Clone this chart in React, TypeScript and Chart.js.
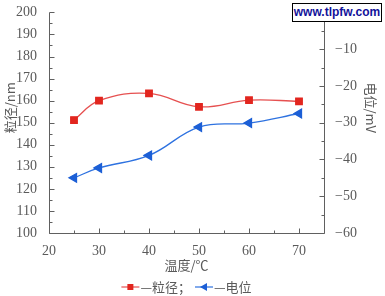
import React, { useEffect, useRef } from 'react';
import { Chart, registerables } from 'chart.js';
Chart.register(...registerables);

const temperatures = [25, 30, 40, 50, 60, 70];
const particleSize = [151.2, 160, 163.3, 157.2, 160.2, 159.7];
const zetaPotential = [-45, -42.3, -38.9, -31.2, -30.1, -27.5];

const xTickValues = [20, 30, 40, 50, 60, 70];
const leftTickValues = [100, 110, 120, 130, 140, 150, 160, 170, 180, 190, 200];
const rightTickValues = [-60, -50, -40, -30, -20, -10, 0];

const xTitle = '温度/℃';
const leftTitle = '粒径/nm';
const rightTitle = '电位/mV';
const sizeLabel = '—粒径；';
const potentialLabel = '—电位';
const watermark = 'www.tlpfw.com';

const RED = '#e2261f';
const RED_LINE = '#e65050';
const BLUE = '#1c5fd6';
const BLUE_LINE = '#2e72e0';
const AXIS = '#606060';
const TEXT = '#5a5a5a';
const SERIF = 'Liberation Serif, Times New Roman, DejaVu Serif, serif';
const CJK_FONT = '13px Noto Sans CJK SC, sans-serif';

function minorValues(majors: number[]) {
  const out: number[] = [];
  for (let i = 0; i < majors.length - 1; i++) out.push((majors[i] + majors[i + 1]) / 2);
  return out;
}

const decorPlugin = {
  id: 'decor',
  beforeDatasetsDraw(chart: any) {
    const { ctx, chartArea: a, scales } = chart;
    const L = Math.round(a.left) + 0.5;
    const R = Math.round(a.right) + 0.5;
    const B = Math.round(a.bottom) + 0.5;
    const T = Math.round(a.top) + 0.5;
    ctx.save();
    ctx.strokeStyle = AXIS;
    ctx.lineWidth = 1;
    ctx.beginPath();
    ctx.moveTo(L, T);
    ctx.lineTo(L, B);
    ctx.lineTo(R, B);
    ctx.lineTo(R, T);
    ctx.stroke();
    ctx.beginPath();
    const tick = (x1: number, y1: number, x2: number, y2: number) => {
      ctx.moveTo(x1, y1);
      ctx.lineTo(x2, y2);
    };
    xTickValues.forEach((v) => {
      const x = Math.round(scales.x.getPixelForValue(v)) + 0.5;
      tick(x, B, x, B - 5);
    });
    minorValues(xTickValues).forEach((v) => {
      const x = Math.round(scales.x.getPixelForValue(v)) + 0.5;
      tick(x, B, x, B - 3);
    });
    leftTickValues.forEach((v) => {
      const y = Math.round(scales.y.getPixelForValue(v)) + 0.5;
      tick(L, y, L + 5, y);
    });
    minorValues(leftTickValues).forEach((v) => {
      const y = Math.round(scales.y.getPixelForValue(v)) + 0.5;
      tick(L, y, L + 3, y);
    });
    rightTickValues.forEach((v) => {
      const y = Math.round(scales.y1.getPixelForValue(v)) + 0.5;
      tick(R, y, R - 5, y);
    });
    minorValues(rightTickValues).forEach((v) => {
      const y = Math.round(scales.y1.getPixelForValue(v)) + 0.5;
      tick(R, y, R - 3, y);
    });
    ctx.stroke();
    ctx.restore();
  },
  afterDraw(chart: any) {
    const { ctx, chartArea: a } = chart;
    const cx = (a.left + a.right) / 2;
    const cy = (a.top + a.bottom) / 2;
    ctx.save();
    ctx.fillStyle = TEXT;
    ctx.font = CJK_FONT;
    ctx.textAlign = 'center';
    ctx.textBaseline = 'middle';
    ctx.fillText(xTitle, cx, a.bottom + 32);
    ctx.save();
    ctx.translate(10, cy - 15);
    ctx.rotate(-Math.PI / 2);
    ctx.fillText(leftTitle, 0, 0);
    ctx.restore();
    ctx.save();
    ctx.translate(371, cy - 15);
    ctx.rotate(Math.PI / 2);
    ctx.fillText(rightTitle, 0, 0);
    ctx.restore();

    const ly = a.bottom + 54;
    const markW = 18;
    const gap = 4;
    const w1 = ctx.measureText(sizeLabel).width;
    const w2 = ctx.measureText(potentialLabel).width;
    const total = markW + 1 + w1 + gap + markW + 1 + w2;
    let x = cx - total / 2;
    ctx.lineWidth = 1.2;
    ctx.strokeStyle = RED_LINE;
    ctx.beginPath();
    ctx.moveTo(x, ly);
    ctx.lineTo(x + markW, ly);
    ctx.stroke();
    ctx.fillStyle = RED;
    ctx.fillRect(x + markW / 2 - 3, ly - 3, 6, 6);
    x += markW + 1;
    ctx.fillStyle = TEXT;
    ctx.textAlign = 'left';
    ctx.fillText(sizeLabel, x, ly);
    x += w1 + gap;
    ctx.strokeStyle = BLUE_LINE;
    ctx.beginPath();
    ctx.moveTo(x, ly);
    ctx.lineTo(x + markW, ly);
    ctx.stroke();
    ctx.fillStyle = BLUE;
    const tx = x + markW / 2;
    ctx.beginPath();
    ctx.moveTo(tx - 4, ly);
    ctx.lineTo(tx + 3, ly - 4);
    ctx.lineTo(tx + 3, ly + 4);
    ctx.closePath();
    ctx.fill();
    x += markW + 1;
    ctx.fillStyle = TEXT;
    ctx.fillText(potentialLabel, x, ly);
    ctx.restore();
  },
};

export default function App() {
  const ref = useRef<HTMLCanvasElement | null>(null);
  useEffect(() => {
    if (!ref.current) return;
    const keepOnly = (vals: number[]) => (scale: any) => {
      scale.ticks = vals.map((v) => ({ value: v }));
    };
    const tickFont = { family: SERIF, size: 14 };
    const chart = new Chart(ref.current, {
      type: 'line',
      data: {
        datasets: [
          {
            label: '粒径',
            data: temperatures.map((t, i) => ({ x: t, y: particleSize[i] })),
            yAxisID: 'y',
            borderColor: RED_LINE,
            backgroundColor: RED,
            pointBackgroundColor: RED,
            pointBorderColor: RED,
            pointStyle: 'rect',
            pointRadius: 4.6,
            borderWidth: 1.3,
            tension: 0.4,
          },
          {
            label: '电位',
            data: temperatures.map((t, i) => ({ x: t, y: zetaPotential[i] })),
            yAxisID: 'y1',
            borderColor: BLUE_LINE,
            backgroundColor: BLUE,
            pointBackgroundColor: BLUE,
            pointBorderColor: BLUE,
            pointStyle: 'triangle',
            pointRotation: -90,
            pointRadius: 5,
            borderWidth: 1.3,
            tension: 0.4,
          },
        ],
      },
      options: {
        responsive: false,
        animation: false,
        font: { family: SERIF },
        layout: { padding: { top: 12, left: 0, right: 0, bottom: 0 } },
        plugins: { legend: { display: false }, tooltip: { enabled: false } },
        scales: {
          x: {
            type: 'linear',
            min: 20,
            max: 75,
            afterBuildTicks: keepOnly(xTickValues),
            afterFit: (s: any) => { s.height = 63; },
            grid: { display: false },
            border: { display: false },
            ticks: { color: TEXT, font: tickFont, padding: 2, maxRotation: 0 },
          },
          y: {
            type: 'linear',
            position: 'left',
            min: 100,
            max: 200,
            afterBuildTicks: keepOnly(leftTickValues),
            afterFit: (s: any) => { s.width = 49; },
            grid: { display: false },
            border: { display: false },
            ticks: { color: TEXT, font: tickFont, padding: 4 },
          },
          y1: {
            type: 'linear',
            position: 'right',
            min: -60,
            max: 0,
            afterBuildTicks: keepOnly(rightTickValues),
            afterFit: (s: any) => { s.width = 61; },
            grid: { display: false },
            border: { display: false },
            ticks: {
              color: TEXT,
              font: tickFont,
              padding: 3,
              callback: (v: any) => (v < 0 ? '\u2212' + Math.abs(v) : String(v)),
            },
          },
        },
      },
      plugins: [decorPlugin],
    });
    return () => chart.destroy();
  }, []);
  return (
    <div style={{ position: 'absolute', left: 0, top: 0, width: 385, height: 296, background: '#fff' }}>
      <canvas ref={ref} width={385} height={296} style={{ display: 'block' }} />
      <div
        style={{
          position: 'absolute',
          left: 292,
          top: 3,
          width: 88,
          height: 17,
          border: '1px solid #000',
          background: '#fff',
          color: '#12129a',
          font: 'bold 12px "Liberation Sans", Arial, sans-serif',
          lineHeight: '17px',
          textAlign: 'center',
          whiteSpace: 'nowrap',
        }}
      >
        {watermark}
      </div>
    </div>
  );
}
